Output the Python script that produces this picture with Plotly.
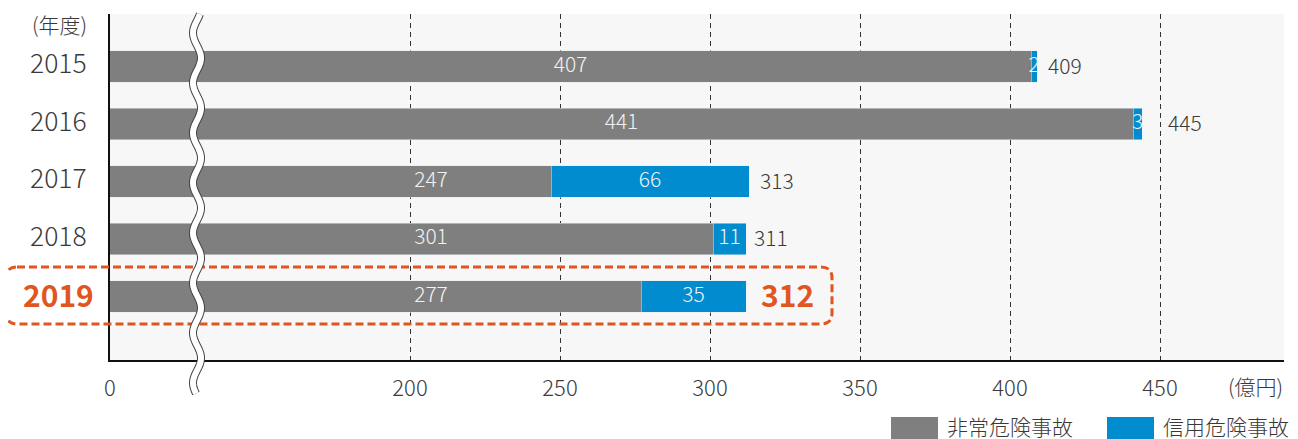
import math
import plotly.graph_objects as go

# ---------------- data ----------------
years = ["2015", "2016", "2017", "2018", "2019"]
noncredit = [407, 441, 247, 301, 277]   # 非常危険事故
credit = [2, 3, 66, 11, 35]             # 信用危険事故
totals = [409, 445, 313, 311, 312]
tick_vals = [100, 200, 250, 300, 350, 400, 450]
tick_text = ["0", "200", "250", "300", "350", "400", "450"]
highlight_year = "2019"

# ---------------- style ----------------
W, H = 1298, 439
OFF = 8  # page body margin offset
# target plot box in screenshot pixels
PL, PR, PT, PB = 110, 1284, 14, 360
ML, MT = PL - OFF, PT - OFF
MR, MB = W - (PR - OFF), H - (PB - OFF)
PW, PH = PR - PL, PB - PT
FONT = "Noto Sans CJK JP"
GRAY = "#7f7f7f"
BLUE = "#008ccf"
ORANGE = "#e0561f"
TXT = "#3a3a3a"
AX_START = 100
AX_END = AX_START + PW / 3.0


def px(x):
    return (x - PL) / PW


def py(y):
    return (PB - y) / PH


fig = go.Figure()
fig.add_trace(go.Bar(y=years, x=noncredit, orientation="h", marker_color=GRAY,
                     width=0.54, name="非常危険事故", hoverinfo="x"))
fig.add_trace(go.Bar(y=years, x=credit, orientation="h", marker_color=BLUE,
                     width=0.54, name="信用危険事故", hoverinfo="x"))

# inside labels
fig.add_trace(go.Scatter(
    y=years, x=[max((AX_START + g) / 2, 207) for g in noncredit],
    mode="text", text=[str(g) for g in noncredit],
    textfont=dict(family=FONT, size=21, color="#f2f2f2", weight=300),
    showlegend=False, hoverinfo="skip"))
fig.add_trace(go.Scatter(
    y=years, x=[g + b / 2 for g, b in zip(noncredit, credit)],
    mode="text", text=[str(b) for b in credit],
    textfont=dict(family=FONT, size=21, color="#f2f2f2", weight=300),
    showlegend=False, hoverinfo="skip"))

annotations = []
for i, (yr, t) in enumerate(zip(years, totals)):
    hl = yr == highlight_year
    # keep the total label clear of a gridline that sits just after the bar end
    near_grid = any(t < v <= t + 8 for v in tick_vals)
    annotations.append(dict(
        x=t, y=i, xref="x", yref="y", xanchor="left", yanchor="middle",
        xshift=13 if hl else (21 if near_grid else 9), yshift=3 if hl else 2,
        showarrow=False,
        text=f"<b>{t}</b>" if hl else str(t),
        font=dict(family=FONT, size=30 if hl else 21,
                  color=ORANGE if hl else TXT, weight=700 if hl else 300)))
    annotations.append(dict(
        x=0, y=i, xref="paper", yref="y", xanchor="right", yanchor="middle",
        xshift=-14 if hl else -21, yshift=3 if hl else 5, showarrow=False,
        text=f"<b>{yr}</b>" if hl else yr,
        font=dict(family=FONT, size=30 if hl else 26.5,
                  color=ORANGE if hl else TXT, weight=700 if hl else 300)))

annotations.append(dict(x=0, y=py(25), xref="paper", yref="paper", xanchor="right",
                        yanchor="middle", xshift=-21, yshift=1, showarrow=False, text="(年度)",
                        font=dict(family=FONT, size=21, color=TXT, weight=300)))
annotations.append(dict(x=1, y=py(386), xref="paper", yref="paper", xanchor="right",
                        yanchor="middle", xshift=1, showarrow=False, text="(億円)",
                        font=dict(family=FONT, size=21, color=TXT, weight=300)))

shapes = []
# legend swatches + text
for sx, col, label in [(891, GRAY, "非常危険事故"), (1107, BLUE, "信用危険事故")]:
    shapes.append(dict(type="rect", xref="paper", yref="paper",
                       x0=px(sx), x1=px(sx + 47), y0=py(417), y1=py(440),
                       fillcolor=col, line_width=0))
    annotations.append(dict(x=px(sx + 54), y=py(426), xref="paper", yref="paper",
                            xanchor="left", yanchor="middle", showarrow=False,
                            text=label, font=dict(family=FONT, size=21, color=TXT, weight=300)))

# highlight rounded dashed box
bx0, bx1, by0, by1, r = 6, 832, 267, 324, 11
path = (f"M {px(bx0 + r)} {py(by0)} L {px(bx1 - r)} {py(by0)} "
        f"Q {px(bx1)} {py(by0)} {px(bx1)} {py(by0 + r)} "
        f"L {px(bx1)} {py(by1 - r)} Q {px(bx1)} {py(by1)} {px(bx1 - r)} {py(by1)} "
        f"L {px(bx0 + r)} {py(by1)} Q {px(bx0)} {py(by1)} {px(bx0)} {py(by1 - r)} "
        f"L {px(bx0)} {py(by0 + r)} Q {px(bx0)} {py(by0)} {px(bx0 + r)} {py(by0)} Z")
shapes.append(dict(type="path", xref="paper", yref="paper", path=path,
                   line=dict(color=ORANGE, width=3, dash="8px,4px"), layer="above"))

# axis break wave
pts = []
yy = 14.0
while yy <= 394.0:
    xx = 197 - 4 * math.cos(2 * math.pi * (yy - 33) / 50)
    pts.append((px(xx), py(yy)))
    yy += 1.5
wave = "M " + " L ".join(f"{a:.5f} {b:.5f}" for a, b in pts)
shapes.append(dict(type="path", xref="paper", yref="paper", path=wave,
                   line=dict(color="#444444", width=8), layer="above"))
shapes.append(dict(type="path", xref="paper", yref="paper", path=wave,
                   line=dict(color="#ffffff", width=6), layer="above"))

fig.update_layout(
    width=W, height=H, autosize=False,
    margin=dict(l=ML, r=MR, t=MT, b=MB, pad=0, autoexpand=False),
    paper_bgcolor="white", plot_bgcolor="#f7f7f7",
    barmode="stack", showlegend=False,
    font=dict(family=FONT, color=TXT),
    annotations=annotations, shapes=shapes,
    xaxis=dict(range=[AX_START, AX_END], tickvals=tick_vals, ticktext=tick_text,
               showgrid=True, gridcolor="#333333", gridwidth=1, griddash="5px,4px",
               showline=True, linecolor="#111111", linewidth=1.5, zeroline=False,
               ticks="", ticklabelstandoff=8, automargin=False,
               tickfont=dict(family=FONT, size=22, color=TXT, weight=300)),
    yaxis=dict(type="category", categoryorder="array", categoryarray=years,
               range=[5.104, -0.913], showticklabels=False, showgrid=False,
               showline=True, linecolor="#111111", linewidth=1.5, zeroline=False,
               ticks="", automargin=False),
)

fig.write_html("out.html")
